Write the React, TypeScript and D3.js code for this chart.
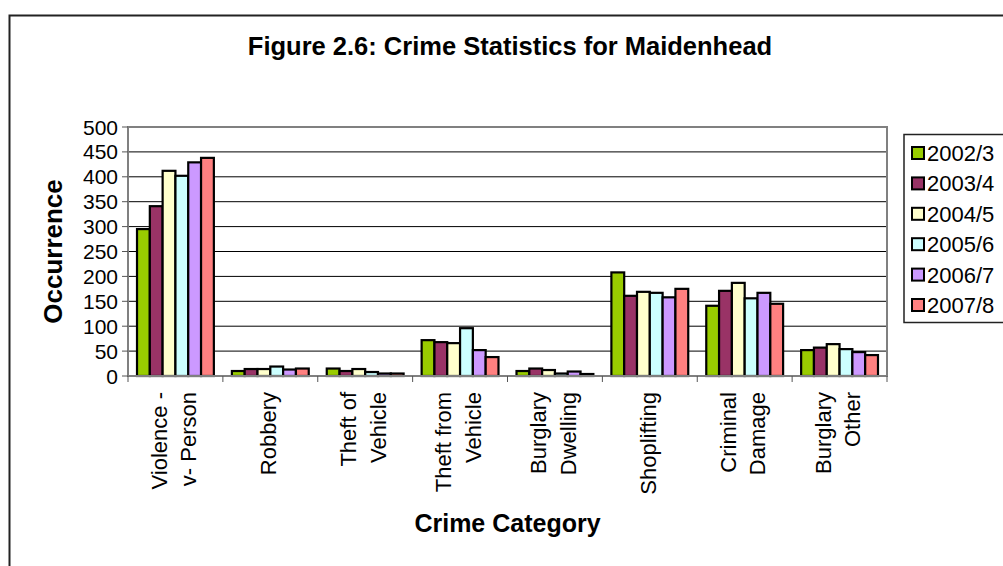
import React from "react";
import * as d3 from "d3";

const categories: string[][] = [
  ["Violence -", "v- Person"],
  ["Robbery"],
  ["Theft of", "Vehicle"],
  ["Theft from", "Vehicle"],
  ["Burglary", "Dwelling"],
  ["Shoplifting"],
  ["Criminal", "Damage"],
  ["Burglary", "Other"],
];
const seriesNames = ["2002/3", "2003/4", "2004/5", "2005/6", "2006/7", "2007/8"];
const s2002 = [295, 10, 15, 72, 10, 208, 141, 52];
const s2003 = [341, 14, 10, 68, 15, 161, 171, 57];
const s2004 = [412, 14, 14, 66, 12, 169, 187, 64];
const s2005 = [402, 19, 8, 96, 5, 167, 156, 54];
const s2006 = [429, 13, 5, 52, 9, 158, 167, 48];
const s2007 = [438, 15, 5, 38, 4, 175, 145, 42];
const seriesColors = ["#99CC00", "#993366", "#FFFFCC", "#CCFFFF", "#CC99FF", "#FF8080"];
const yTicks = [0, 50, 100, 150, 200, 250, 300, 350, 400, 450, 500];

const allSeries = [s2002, s2003, s2004, s2005, s2006, s2007];

const W = 1003;
const H = 566;
const plot = { left: 128, right: 887, top: 127, bottom: 376 };
const FONT = "'Liberation Sans', Arial, Helvetica, sans-serif";

export default function App() {
  const catKeys = categories.map((c) => c.join(" "));
  const x = d3
    .scaleBand<string>()
    .domain(catKeys)
    .range([plot.left, plot.right])
    .paddingInner(0.19)
    .paddingOuter(0.095);
  const xs = d3.scaleBand<string>().domain(seriesNames).range([0, x.bandwidth()]);
  const y = d3.scaleLinear().domain([0, 500]).range([plot.bottom, plot.top]);
  const step = x.step();
  const boundaries = d3.range(categories.length + 1).map((i) => plot.left + i * step);

  return (
    <svg
      width={W}
      height={H}
      style={{ position: "absolute", left: 0, top: 0, background: "#fff" }}
      fontFamily={FONT}
    >
      {/* outer chart frame */}
      <rect x={9.5} y={15.5} width={1100} height={700} fill="#fff" stroke="#222" strokeWidth={2} />

      {/* title */}
      <text x={510} y={55} textAnchor="middle" fontWeight="bold" fontSize={25.5}>
        Figure 2.6: Crime Statistics for Maidenhead
      </text>

      {/* plot area */}
      <rect x={plot.left} y={plot.top} width={plot.right - plot.left} height={plot.bottom - plot.top} fill="#fff" />
      {yTicks.slice(1).map((t) => (
        <line key={"g" + t} x1={plot.left} x2={plot.right} y1={y(t)} y2={y(t)} stroke="#000" strokeWidth={1} />
      ))}

      {/* bars */}
      {categories.map((c, ci) =>
        allSeries.map((s, si) => (
          <rect
            key={ci + "-" + si}
            x={(x(catKeys[ci]) as number) + (xs(seriesNames[si]) as number)}
            y={y(s[ci])}
            width={xs.bandwidth()}
            height={y(0) - y(s[ci])}
            fill={seriesColors[si]}
            stroke="#000"
            strokeWidth={2.2}
          />
        ))
      )}

      <rect
        x={plot.left}
        y={plot.top}
        width={plot.right - plot.left}
        height={plot.bottom - plot.top}
        fill="none"
        stroke="#808080"
        strokeWidth={2}
      />

      {/* y axis ticks & labels */}
      {yTicks.map((t) => (
        <g key={"yt" + t}>
          <line x1={plot.left - 6} x2={plot.left} y1={y(t)} y2={y(t)} stroke="#555" strokeWidth={1} />
          <text x={118} y={y(t)} dy="0.36em" textAnchor="end" fontSize={21}>
            {t}
          </text>
        </g>
      ))}

      {/* x axis ticks */}
      {boundaries.map((b, i) => (
        <line key={"xt" + i} x1={b} x2={b} y1={plot.bottom} y2={plot.bottom + 6} stroke="#555" strokeWidth={1} />
      ))}

      {/* x labels */}
      {categories.map((lines, ci) => {
        const cx = (x(catKeys[ci]) as number) + x.bandwidth() / 2;
        return lines.map((ln, li) => {
          const off = (li - (lines.length - 1) / 2) * 29.5 - 1.5;
          return (
            <text
              key={"xl" + ci + "-" + li}
              transform={`translate(${cx + off},${392}) rotate(-90)`}
              textAnchor="end"
              dominantBaseline="central"
              fontSize={22}
            >
              {ln}
            </text>
          );
        });
      })}

      {/* axis titles */}
      <text
        transform={`translate(53,${(plot.top + plot.bottom) / 2}) rotate(-90)`}
        textAnchor="middle"
        dominantBaseline="central"
        fontWeight="bold"
        fontSize={26}
      >
        Occurrence
      </text>
      <text x={(plot.left + plot.right) / 2} y={532} textAnchor="middle" fontWeight="bold" fontSize={25}>
        Crime Category
      </text>

      {/* legend */}
      <rect x={904} y={134.5} width={120} height={188} fill="#fff" stroke="#222" strokeWidth={1.5} />
      {seriesNames.map((n, i) => {
        const cy = 153 + i * 30.4;
        return (
          <g key={"lg" + n}>
            <rect x={912} y={cy - 6} width={12} height={12} fill={seriesColors[i]} stroke="#000" strokeWidth={2} />
            <text x={927} y={cy} dy="0.36em" fontSize={22}>
              {n}
            </text>
          </g>
        );
      })}
    </svg>
  );
}
